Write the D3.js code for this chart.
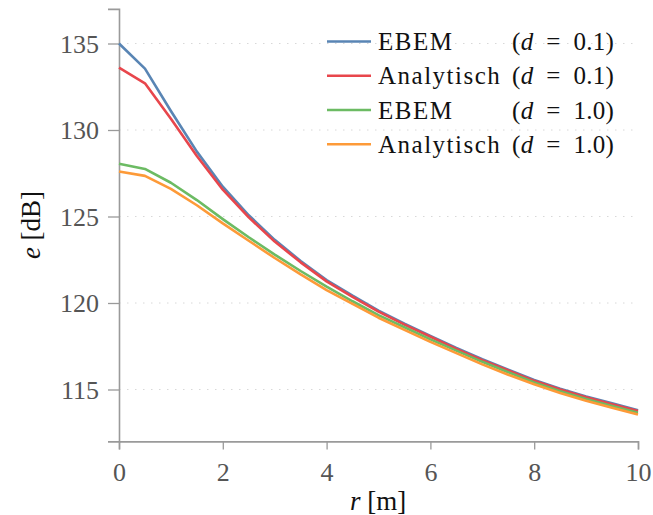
<!DOCTYPE html>
<html>
<head>
<meta charset="utf-8">
<script src="https://cdn.jsdelivr.net/npm/d3@7"></script>
<style>
    body { margin: 0; background: #fff; }
</style>
</head>
<body>
<div id="chart"></div>
<script>
// radius r [m]
const radii = [0, 0.5, 1, 1.5, 2, 2.5, 3, 3.5, 4, 4.5, 5, 5.5, 6, 6.5, 7, 7.5, 8, 8.5, 9, 9.5, 10];

// e [dB] per series
const ebem01 = [135.0, 133.55, 131.1, 128.75, 126.72, 125.07, 123.65, 122.43, 121.33, 120.42, 119.56,
    118.8, 118.1, 117.4, 116.75, 116.15, 115.55, 115.05, 114.6, 114.2, 113.8];
const anal01 = [133.6, 132.7, 130.65, 128.5, 126.55, 124.95, 123.55, 122.35, 121.25, 120.35, 119.5,
    118.75, 118.05, 117.35, 116.7, 116.1, 115.5, 115.0, 114.55, 114.15, 113.75];
const ebem10 = [128.05, 127.75, 126.95, 125.95, 124.85, 123.8, 122.8, 121.85, 120.95, 120.1, 119.3,
    118.6, 117.9, 117.25, 116.6, 116.0, 115.4, 114.9, 114.45, 114.05, 113.65];
const anal10 = [127.6, 127.35, 126.6, 125.65, 124.6, 123.6, 122.6, 121.65, 120.75, 119.95, 119.15,
    118.45, 117.75, 117.1, 116.45, 115.85, 115.3, 114.8, 114.35, 113.95, 113.55];

const seriesNames = ['EBEM', 'Analytisch', 'EBEM', 'Analytisch'];
const seriesD = ['0.1', '0.1', '1.0', '1.0'];
const seriesValues = [ebem01, anal01, ebem10, anal10];
const seriesColors = ['#5985b4', '#e8464c', '#6cbb63', '#fd9a38'];

const xTicks = [0, 2, 4, 6, 8, 10];
const yTicks = [115, 120, 125, 130, 135];

const width = 653;
const height = 515;
const FONT = '"Liberation Serif"';

const svg = d3.select('#chart').append('svg')
    .attr('width', width)
    .attr('height', height);

const x = d3.scaleLinear().domain([0, 10]).range([119, 638]);
const y = d3.scaleLinear().domain([112, 137]).range([441.4, 8.9]);

// dotted grid
svg.append('g')
    .selectAll('line')
    .data(yTicks)
    .join('line')
    .attr('x1', x(0))
    .attr('x2', x(10))
    .attr('y1', (d) => y(d))
    .attr('y2', (d) => y(d))
    .attr('stroke', '#d8d8d8')
    .attr('stroke-width', 1)
    .attr('stroke-dasharray', '1.5,6.5');

// axes
const axisColor = '#9a9a9a';

const yAxis = svg.append('g')
    .attr('transform', `translate(${x(0)},0)`)
    .call(d3.axisLeft(y).tickValues(yTicks).tickSize(11).tickPadding(9).tickFormat(d3.format('d')));

const xAxis = svg.append('g')
    .attr('transform', `translate(0,${y(112)})`)
    .call(d3.axisBottom(x).tickValues(xTicks).tickSize(8).tickPadding(12).tickFormat(d3.format('d')));

[xAxis, yAxis].forEach((g) => {
    g.select('.domain').attr('stroke', axisColor).attr('stroke-width', 1.6);
    g.selectAll('.tick line').attr('stroke', axisColor).attr('stroke-width', 1.3);
    g.selectAll('.tick text')
        .attr('fill', '#555')
        .attr('font-family', FONT)
        .attr('font-size', 26);
});
yAxis.selectAll('.tick text').attr('dy', '0.34em');
xAxis.selectAll('.tick text').attr('dy', '0.75em');

// lines
const line = d3.line()
    .x((d, i) => x(radii[i]))
    .y((d) => y(d));

svg.append('g')
    .selectAll('path')
    .data(seriesValues)
    .join('path')
    .attr('fill', 'none')
    .attr('stroke', (d, i) => seriesColors[i])
    .attr('stroke-width', 2.6)
    .attr('stroke-linejoin', 'round')
    .attr('d', line);

function addText(parent, px, py) {
    return parent.append('text')
        .attr('x', px)
        .attr('y', py)
        .attr('font-family', FONT)
        .attr('fill', '#111');
}

function addSpan(t, str, italic) {
    const s = t.append('tspan').attr('font-family', FONT).text(str);
    if (italic) s.attr('font-style', 'italic');
    return s;
}

// axis labels
const xLabel = addText(svg, 378, 510).attr('text-anchor', 'middle').attr('font-size', 27);
addSpan(xLabel, 'r', true);
addSpan(xLabel, ' [m]', false);

const yLabel = addText(svg, 0, 0)
    .attr('transform', 'translate(40,225) rotate(-90)')
    .attr('text-anchor', 'middle')
    .attr('font-size', 27);
addSpan(yLabel, 'e', true);
addSpan(yLabel, ' [dB]', false);

// legend
const legend = svg.append('g');
const rowY = [41.5, 75.8, 110, 144.3];

seriesNames.forEach((name, i) => {
    const g = legend.append('g').attr('transform', `translate(0,${rowY[i]})`);
    g.append('line')
        .attr('x1', 327)
        .attr('x2', 371)
        .attr('stroke', seriesColors[i])
        .attr('stroke-width', 2.6);
    addText(g, 378, 8.5)
        .attr('font-size', 25)
        .attr('letter-spacing', 1.5)
        .text(name);
    const t = addText(g, 512, 8.5).attr('font-size', 25).attr('letter-spacing', 0.3);
    addSpan(t, '(', false);
    addSpan(t, 'd', true);
    addSpan(t, '\u2002=\u2002' + seriesD[i] + ')', false);
});
</script>
</body>
</html>
